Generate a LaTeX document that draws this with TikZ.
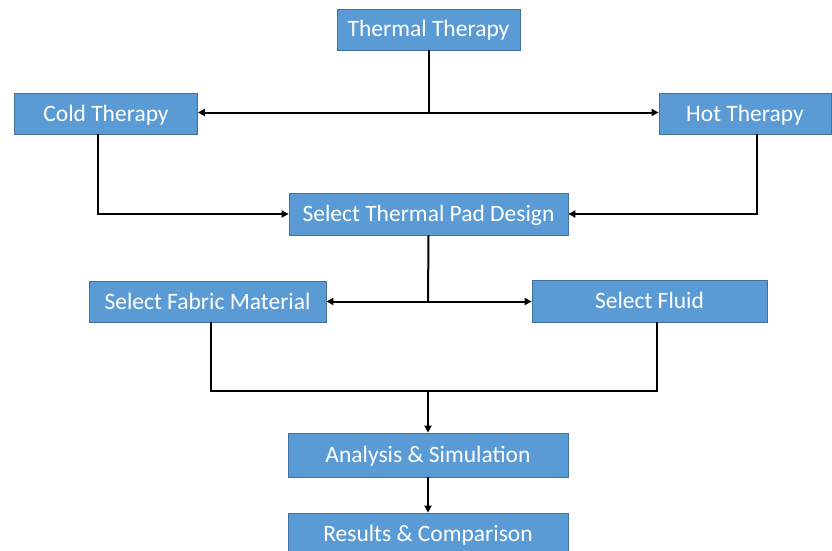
\documentclass[tikz,border=0pt]{standalone}
\usepackage{fontspec}
\setmainfont{Carlito}
\usetikzlibrary{arrows.meta}
\definecolor{boxfill}{HTML}{5B9BD5}
\definecolor{boxedge}{HTML}{41719C}
\begin{document}
\begin{tikzpicture}[x=1pt,y=1pt,
  box/.style={draw=boxedge,line width=0.8pt,fill=boxfill,text=white,
    font=\fontsize{23.5}{28}\selectfont,inner sep=0pt,align=center,
    text height=17pt,text depth=2pt},
  conn/.style={line width=2pt,draw=black},
  arr/.style={conn,-{Triangle[length=7pt,width=7pt]}}]
\useasboundingbox (0,0) rectangle (832,-551);
\fill[white] (0,0) rectangle (832,-551);
\node[box,minimum width=183,minimum height=41] (therm) at (428.5,-29.5) {Thermal Therapy};
\node[box,minimum width=183,minimum height=41] (cold) at (106,-113.5) {Cold Therapy};
\node[box,minimum width=172,minimum height=41] (hot) at (745,-113.5) {Hot Therapy};
\node[box,minimum width=279,minimum height=42] (pad) at (428.5,-214) {Select Thermal Pad Design};
\node[box,minimum width=237,minimum height=41] (fabric) at (207.5,-301.5) {Select Fabric Material};
\node[box,minimum width=235,minimum height=42] (fluid) at (649.5,-301) {Select Fluid};
\node[box,minimum width=280,minimum height=44] (anal) at (428,-455) {Analysis \& Simulation};
\node[box,minimum width=280,minimum height=42] (res) at (428,-534) {Results \& Comparison};
\coordinate (j1) at (429,-112.5);
\coordinate (j2) at (428,-301.5);
\coordinate (j3) at (428,-391);
\draw[conn] ([xshift=0.5pt]therm.south) -- (j1);
\draw[arr] (j1) -- (cold.east |- j1);
\draw[arr] (j1) -- (hot.west |- j1);
\draw[arr] ([xshift=-8pt]cold.south) |- (pad.west);
\draw[arr] ([xshift=12pt]hot.south) |- (pad.east);
\draw[conn] (pad.south) -- (j2);
\draw[arr] (j2) -- (fabric.east |- j2);
\draw[arr] (j2) -- (fluid.west |- j2);
\draw[conn] ([xshift=3.5pt]fabric.south) |- (j3) -| ([xshift=7.5pt]fluid.south);
\draw[arr] (j3) -- (anal.north);
\draw[arr] (anal.south) -- (res.north);
\end{tikzpicture}
\end{document}
